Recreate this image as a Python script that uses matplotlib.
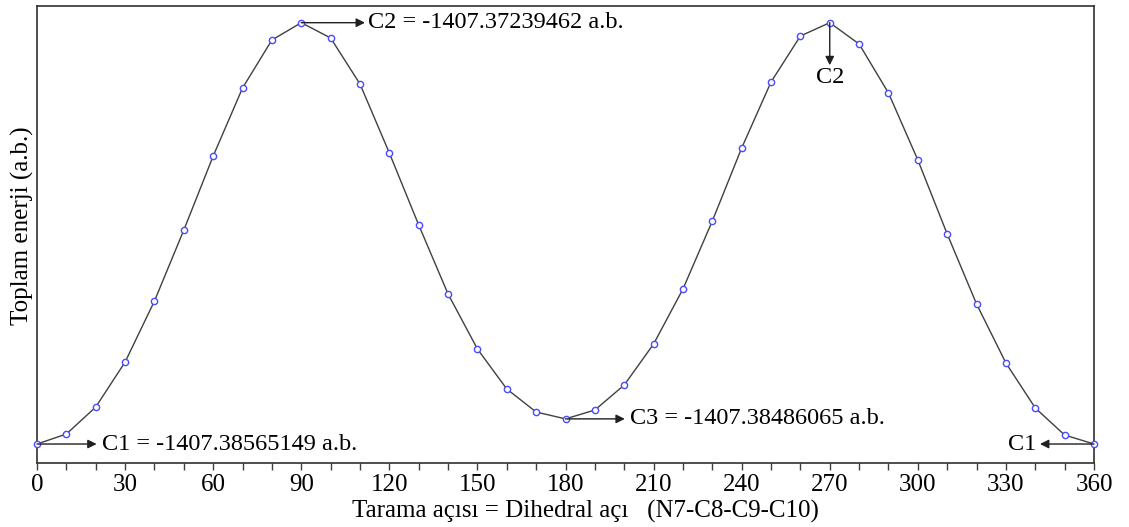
import numpy as np
import matplotlib.pyplot as plt
from matplotlib.ticker import MultipleLocator

plt.rcParams['font.family'] = ['Liberation Serif', 'DejaVu Serif']

# scan angle (degrees) and total energy (a.u.)
angle = np.arange(0, 361, 10)
energy = [
    -1407.38565149, -1407.38533682, -1407.38448725, -1407.38307130, -1407.38115186,
    -1407.37891771, -1407.37658917, -1407.37444941, -1407.37293903, -1407.37239462,
    -1407.37287610, -1407.37432354, -1407.37649477, -1407.37876036, -1407.38093159,
    -1407.38266214, -1407.38392074, -1407.38464457, -1407.38486065, -1407.38458165,
    -1407.38379487, -1407.38250481, -1407.38077424, -1407.37863460, -1407.37633742,
    -1407.37426063, -1407.37281317, -1407.37239462, -1407.37306516, -1407.37460677,
    -1407.37671501, -1407.37904357, -1407.38124624, -1407.38310276, -1407.38451871,
    -1407.38536831, -1407.38565149,
]
c1 = -1407.38565149
c2 = -1407.37239462
c3 = -1407.38486065

fig = plt.figure(figsize=(11.29, 5.27), dpi=100)
ax = fig.add_axes([0.0328, 0.1214, 0.9362, 0.8672])

ax.plot(angle, energy, color='#404040', lw=1.0, zorder=2, clip_on=False)
ax.plot(angle, energy, ls='none', marker='o', ms=4.5, mfc='white', mec='#4a4aff',
        mew=1.0, zorder=3, clip_on=False)

span = c2 - c1
ax.set_xlim(0, 360)
ax.set_ylim(c1 - span * 0.0451, c2 + span * 0.0396)

ax.xaxis.set_major_locator(MultipleLocator(30))
ax.xaxis.set_minor_locator(MultipleLocator(10))
ax.tick_params(axis='x', which='both', direction='out', length=5, width=1.0,
               colors='#404040', labelcolor='black', labelsize=18, pad=3)
ax.tick_params(axis='y', left=False, labelleft=False)
for s in ax.spines.values():
    s.set_color('#303030')
    s.set_linewidth(1.2)

ax.set_xlabel('Tarama açısı = Dihedral açı   (N7-C8-C9-C10)', fontsize=18, labelpad=3)
ax.xaxis.label.set_x(0.519)
ax.set_ylabel('Toplam enerji (a.b.)', fontsize=18, labelpad=2)
ax.yaxis.label.set_y(0.52)

arrow = dict(arrowstyle='-|>', color='#202020', lw=1.0, mutation_scale=13,
             shrinkA=0, shrinkB=0)
fs = 17.5

# C1 at 0
ax.annotate('', xy=(20.3, c1), xytext=(0, c1), arrowprops=arrow)
ax.text(22, c1, 'C1 = -1407.38565149 a.b.', fontsize=fs, va='center', ha='left')
# C2 at 90
ax.annotate('', xy=(111.7, c2), xytext=(90, c2), arrowprops=arrow)
ax.text(112.8, c2, 'C2 = -1407.37239462 a.b.', fontsize=fs, va='center', ha='left')
# C3 at 180
ax.annotate('', xy=(200.2, c3), xytext=(180, c3), arrowprops=arrow)
ax.text(202, c3, 'C3 = -1407.38486065 a.b.', fontsize=fs, va='center', ha='left')
# C2 at 270
ax.annotate('', xy=(270, c2 - span * 0.101), xytext=(270, c2), arrowprops=arrow)
ax.text(270, c2 - span * 0.106, 'C2', fontsize=fs, va='top', ha='center')
# C1 at 360
ax.annotate('', xy=(341.6, c1), xytext=(360, c1), arrowprops=arrow)
ax.text(340.5, c1, 'C1', fontsize=fs, va='center', ha='right')

fig.savefig('out.png', dpi=100)
